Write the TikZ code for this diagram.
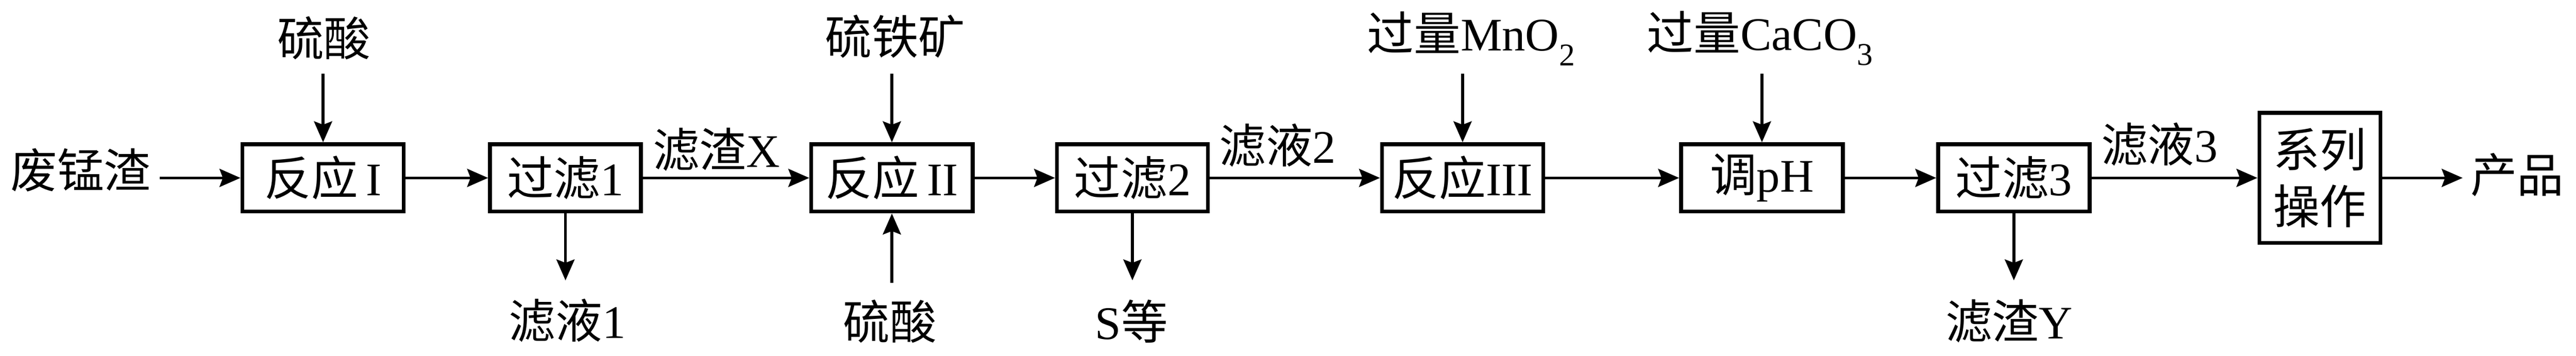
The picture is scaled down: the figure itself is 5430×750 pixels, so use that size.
\documentclass[tikz,border=0pt]{standalone}
\usepackage{fontspec}
\setmainfont{Liberation Serif}
\newfontfamily\cjk{Noto Sans CJK SC}
\usetikzlibrary{arrows.meta}
\tikzset{
  every node/.style={font=\fontsize{28}{34}\selectfont, inner sep=0pt},
  proc/.style={draw, line width=2.3pt, minimum height=1.42cm, align=center},
  lbl/.style={align=center},
  arr/.style={line width=1.7pt, -{Stealth[length=0.44cm, width=0.38cm, inset=0.07cm]}}
}
\newcommand{\cn}[1]{{\cjk #1}}
\newcommand{\subs}[1]{\raisebox{-0.32em}[0pt][0pt]{\fontsize{19}{19}\selectfont #1}}
\begin{document}
\begin{tikzpicture}[x=0.01cm, y=-0.01cm]
\useasboundingbox (0,0) rectangle (5430,750);
% process boxes
\node[proc, minimum width=3.40cm] (A) at (681,375) {\cn{反应}\,I};
\node[proc, minimum width=3.18cm] (B) at (1192,375) {\cn{过滤}1};
\node[proc, minimum width=3.40cm] (C) at (1880,375) {\cn{反应}\,II};
\node[proc, minimum width=3.18cm] (D) at (2387,375) {\cn{过滤}2};
\node[proc, minimum width=3.40cm] (E) at (3083,375) {\cn{反应}III};
\node[proc, minimum width=3.41cm] (F) at (3714,375) {\cn{调}pH};
\node[proc, minimum width=3.19cm] (G) at (4245,375) {\cn{过滤}3};
\node[proc, minimum width=2.55cm, minimum height=2.74cm] (H) at (4890,375) {\cn{系列}\\\cn{操作}};
% labels
\node[lbl] (l0) at (170,358) {\cn{废锰渣}};
\node[lbl] (s1) at (683,80) {\cn{硫酸}};
\node[lbl] (f1) at (1196,676) {\cn{滤液}1};
\node[lbl] (zx) at (1510,315) {\cn{滤渣}X};
\node[lbl] (st) at (1887,77) {\cn{硫铁矿}};
\node[lbl] (s2) at (1876,677) {\cn{硫酸}};
\node[lbl] (se) at (2385,677) {S\cn{等}};
\node[lbl] (f2) at (2693,306) {\cn{滤液}2};
\node[lbl] (mn) at (3101,69) {\cn{过量}MnO\subs{2}};
\node[lbl] (ca) at (3710,67) {\cn{过量}CaCO\subs{3}};
\node[lbl] (zy) at (4235,677) {\cn{滤渣}Y};
\node[lbl] (f3) at (4552,304) {\cn{滤液}3};
\node[lbl] (pr) at (5306,368) {\cn{产品}};
% free ends
\coordinate (a0) at (337,375);
\coordinate (a1) at (681,155);
\coordinate (b1) at (1192,591);
\coordinate (c1) at (1880,155);
\coordinate (c2) at (1880,596);
\coordinate (d1) at (2387,591);
\coordinate (e1) at (3083,155);
\coordinate (g1) at (3714,155);
\coordinate (h1) at (4245,591);
\coordinate (p1) at (5191,375);
% connectors
\draw[arr] (a0) -- (A.west);
\draw[arr] (a1) -- (A.north);
\draw[arr] (A.east) -- (B.west);
\draw[arr] (B.south) -- (b1);
\draw[arr] (B.east) -- (C.west);
\draw[arr] (c1) -- (C.north);
\draw[arr] (c2) -- (C.south);
\draw[arr] (C.east) -- (D.west);
\draw[arr] (D.south) -- (d1);
\draw[arr] (D.east) -- (E.west);
\draw[arr] (e1) -- (E.north);
\draw[arr] (E.east) -- (F.west);
\draw[arr] (g1) -- (F.north);
\draw[arr] (F.east) -- (G.west);
\draw[arr] (G.south) -- (h1);
\draw[arr] (G.east) -- (H.west);
\draw[arr] (H.east) -- (p1);
\end{tikzpicture}
\end{document}
